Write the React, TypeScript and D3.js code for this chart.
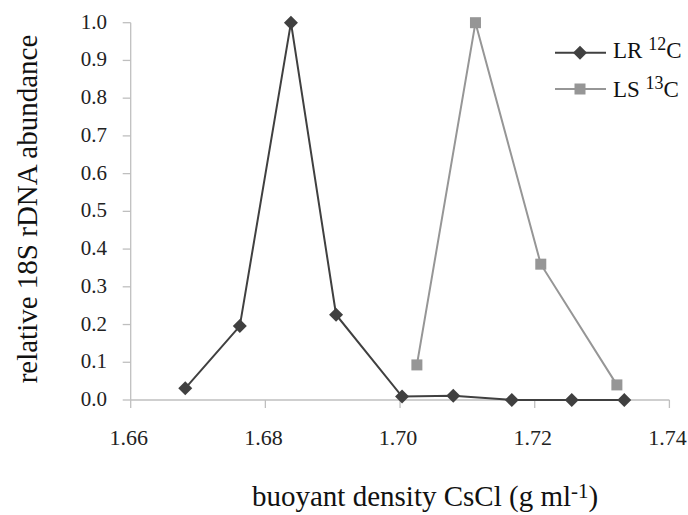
import React from "react";
import * as d3 from "d3";

const lrDensity = [1.6681, 1.6762, 1.6838, 1.6905, 1.7003, 1.7079, 1.7166, 1.7255, 1.7333];
const lrAbundance = [0.031, 0.196, 1.0, 0.226, 0.009, 0.011, 0.0, 0.0, 0.0];
const lsDensity = [1.7025, 1.7112, 1.7209, 1.7322];
const lsAbundance = [0.093, 1.0, 0.36, 0.04];
const xTicks = [1.66, 1.68, 1.70, 1.72, 1.74];
const yTicks = [0, 0.1, 0.2, 0.3, 0.4, 0.5, 0.6, 0.7, 0.8, 0.9, 1.0];

const W = 688, H = 515;
const FONT = "Liberation Serif, Times New Roman, serif";
const LR_COLOR = "#404040";
const LS_COLOR = "#969696";
const AXIS_COLOR = "#bfbfbf";

export default function App() {
  const x = d3.scaleLinear().domain([1.66, 1.74]).range([130.7, 669.4]);
  const y = d3.scaleLinear().domain([0, 1]).range([400, 22.7]);
  const line = d3.line<[number, number]>().x(d => x(d[0])).y(d => y(d[1]));
  const lr: [number, number][] = lrDensity.map((v, i) => [v, lrAbundance[i]]);
  const ls: [number, number][] = lsDensity.map((v, i) => [v, lsAbundance[i]]);
  const diamond = (cx: number, cy: number, r: number) =>
    `M${cx},${cy - r}L${cx + r},${cy}L${cx},${cy + r}L${cx - r},${cy}Z`;

  return (
    <svg width={W} height={H} style={{ position: "absolute", left: 0, top: 0, background: "#fff", fontFamily: FONT }}>
      {/* axes */}
      <line x1={x(1.66)} x2={x(1.74)} y1={y(0)} y2={y(0)} stroke={AXIS_COLOR} strokeWidth={1.3} />
      <line x1={x(1.66)} x2={x(1.66)} y1={y(0)} y2={y(1)} stroke={AXIS_COLOR} strokeWidth={1.3} />
      {yTicks.map(t => (
        <g key={"y" + t}>
          <line x1={x(1.66) - 8} x2={x(1.66)} y1={y(t)} y2={y(t)} stroke={AXIS_COLOR} strokeWidth={1.3} />
          <text x={107} y={y(t) + 6} textAnchor="end" fontSize={21} fill="#222" style={{ fontFamily: FONT }}>{t.toFixed(1)}</text>
        </g>
      ))}
      {xTicks.map(t => (
        <g key={"x" + t}>
          <line x1={x(t)} x2={x(t)} y1={y(0)} y2={y(0) + 8} stroke={AXIS_COLOR} strokeWidth={1.3} />
          <text x={x(t) - 2} y={445} textAnchor="middle" fontSize={22} fill="#222" style={{ fontFamily: FONT }}>{t.toFixed(2)}</text>
        </g>
      ))}
      {/* axis titles */}
      <text x={252} y={506} textAnchor="start" fontSize={29} fill="#111" style={{ fontFamily: FONT }}>
        buoyant density CsCl (g ml<tspan dy={-8} fontSize={21}>-1</tspan><tspan dy={8}>)</tspan>
      </text>
      <text transform={`translate(37,209) rotate(-90)`} textAnchor="middle" fontSize={29} fill="#111" style={{ fontFamily: FONT }}>
        relative 18S rDNA abundance
      </text>
      {/* series */}
      <path d={line(lr) || ""} fill="none" stroke={LR_COLOR} strokeWidth={2} />
      <path d={line(ls) || ""} fill="none" stroke={LS_COLOR} strokeWidth={2} />
      {lr.map((d, i) => (
        <path key={"lr" + i} d={diamond(x(d[0]), y(d[1]), 7)} fill={LR_COLOR} />
      ))}
      {ls.map((d, i) => (
        <rect key={"ls" + i} x={x(d[0]) - 5.5} y={y(d[1]) - 5.5} width={11} height={11} fill={LS_COLOR} />
      ))}
      {/* legend */}
      <line x1={555} x2={606} y1={52.7} y2={52.7} stroke={LR_COLOR} strokeWidth={2} />
      <path d={diamond(580, 52.7, 7)} fill={LR_COLOR} />
      <text x={613} y={58.3} fontSize={23} fill="#111" style={{ fontFamily: FONT }}>
        LR <tspan dy={-8} fontSize={18}>12</tspan><tspan dy={8}>C</tspan>
      </text>
      <line x1={555} x2={606} y1={89} y2={89} stroke={LS_COLOR} strokeWidth={2} />
      <rect x={574.5} y={83.5} width={11} height={11} fill={LS_COLOR} />
      <text x={613} y={96.7} fontSize={23} fill="#111" style={{ fontFamily: FONT }}>
        LS <tspan dy={-8} fontSize={18}>13</tspan><tspan dy={8}>C</tspan>
      </text>
    </svg>
  );
}
